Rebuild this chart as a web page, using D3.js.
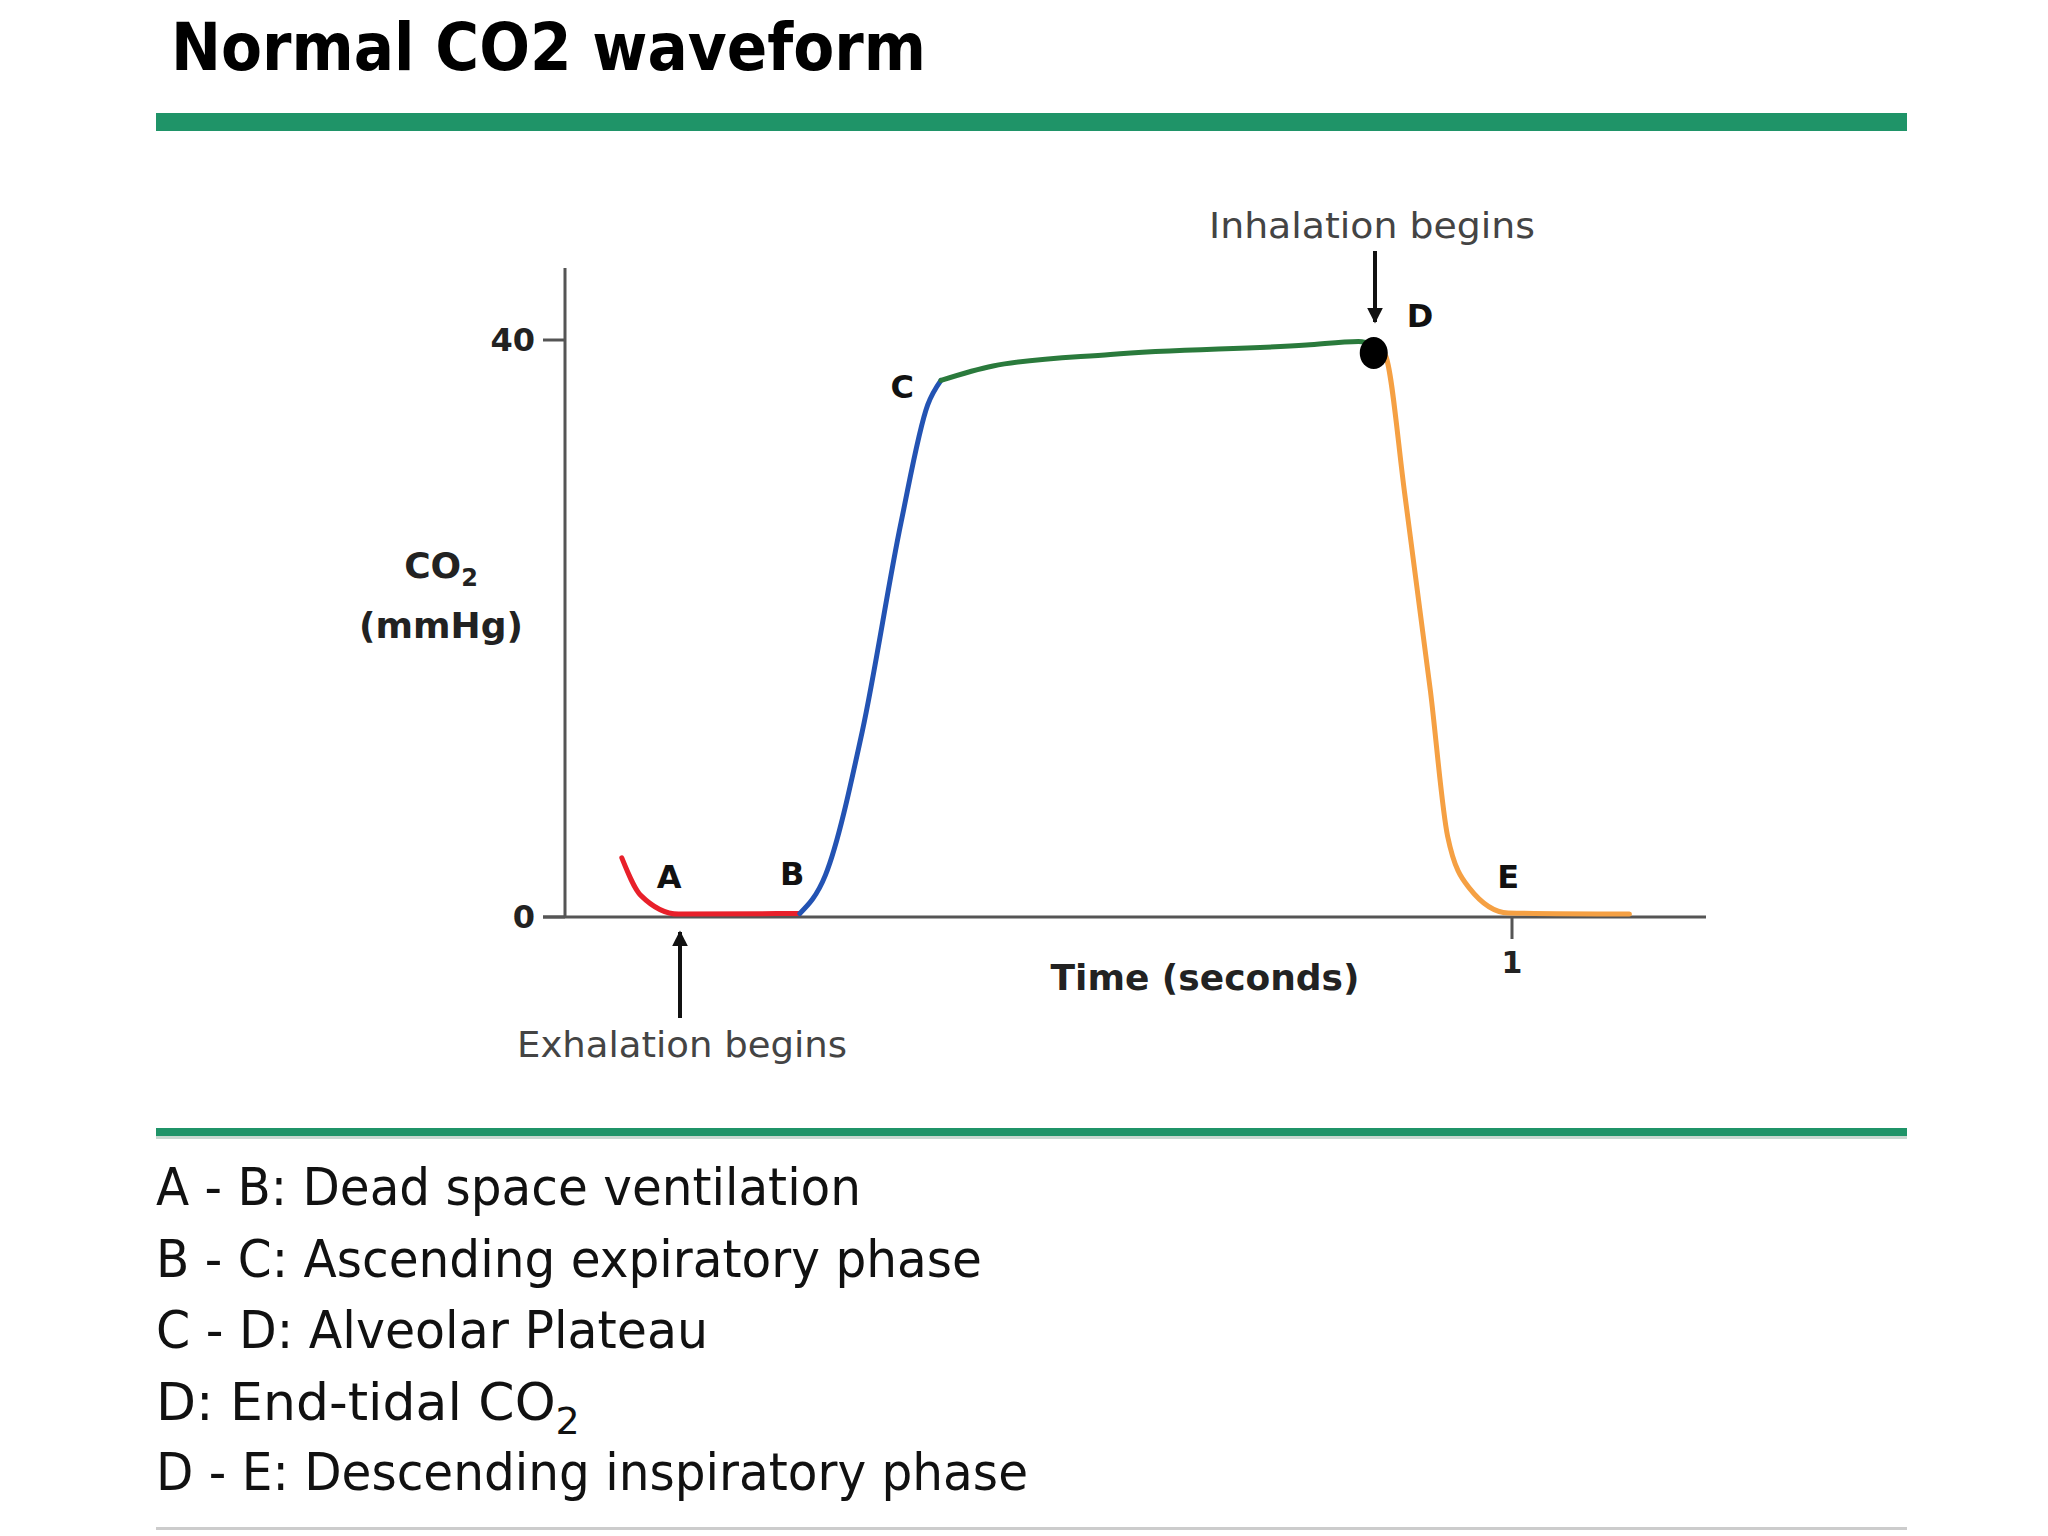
<!DOCTYPE html>
<html><head><meta charset="utf-8">
<script src="https://cdn.jsdelivr.net/npm/d3@7"></script>
<style>body{margin:0;background:#fff}</style></head>
<body><svg id="c" width="2048" height="1536"></svg>
<script>
const title = "Normal CO2 waveform";
const redSeg = [[0.060,4.1],[0.080,1.5],[0.120,0.2],[0.248,0.25]];
const blueSeg = [[0.248,0.25],[0.275,2.9],[0.314,12.9],[0.355,27.4],[0.383,35.5],[0.397,37.2]];
const greenSeg = [[0.397,37.2],[0.452,38.2],[0.576,39.0],[0.783,39.65],[0.838,39.9],[0.856,39.6]];
const orangeSeg = [[0.856,39.6],[0.866,39.0],[0.887,29.2],[0.914,15.6],[0.932,5.6],[0.955,2.0],[0.996,0.28],[1.124,0.2]];
const dotPoint = [0.854,39.1];
const pointLabels = [["A",0.11,2.0],["B",0.240,2.2],["C",0.356,36.0],["D",0.903,40.9],["E",0.996,2.0]];
const yTicks = [0,40];
const xTicks = [1];
const legendLines = [["A - B: Dead space ventilation",705],["B - C: Ascending expiratory phase",826],["C - D: Alveolar Plateau",552],["D: End-tidal CO",null],["D - E: Descending inspiratory phase",872]];

const svg = d3.select("#c");
const x = d3.scaleLinear().domain([0,1]).range([565,1512]);
const y = d3.scaleLinear().domain([0,40]).range([917,340]);
const font = "DejaVu Sans, Verdana, sans-serif";

svg.append("text").attr("x",171).attr("y",70).attr("font-family",font).attr("font-weight","bold")
  .attr("font-size",66).attr("textLength",755).attr("lengthAdjust","spacingAndGlyphs").text(title);
svg.append("rect").attr("x",156).attr("y",113).attr("width",1751).attr("height",18).attr("fill","#1f9468");
svg.append("rect").attr("x",156).attr("y",1128).attr("width",1751).attr("height",8).attr("fill","#1f9468");
svg.append("rect").attr("x",156).attr("y",1136).attr("width",1751).attr("height",3).attr("fill","#c8d8d0");
svg.append("rect").attr("x",156).attr("y",1527).attr("width",1751).attr("height",3).attr("fill","#cccccc");

const ax = svg.append("g").attr("stroke","#555").attr("stroke-width",3);
ax.append("line").attr("x1",x(0)).attr("x2",x(0)).attr("y1",268).attr("y2",y(0));
ax.append("line").attr("x1",543).attr("x2",1706).attr("y1",y(0)).attr("y2",y(0));
yTicks.forEach(t=>{ax.append("line").attr("x1",543).attr("x2",x(0)).attr("y1",y(t)).attr("y2",y(t));
  svg.append("text").attr("x",535).attr("y",y(t)+11).attr("text-anchor","end").attr("font-family",font)
   .attr("font-weight","bold").attr("font-size",32).attr("fill","#222").text(t);});
xTicks.forEach(t=>{ax.append("line").attr("x1",x(t)).attr("x2",x(t)).attr("y1",y(0)).attr("y2",y(0)+22);
  svg.append("text").attr("x",x(t)).attr("y",973).attr("text-anchor","middle").attr("font-family",font)
   .attr("font-weight","bold").attr("font-size",30).attr("fill","#222").text(t);});

svg.append("text").attr("x",1205).attr("y",990).attr("text-anchor","middle").attr("font-family",font)
  .attr("font-weight","bold").attr("font-size",36).attr("fill","#222").text("Time (seconds)");
const yl = svg.append("text").attr("x",441).attr("y",578).attr("text-anchor","middle").attr("font-family",font)
  .attr("font-weight","bold").attr("font-size",36).attr("fill","#222");
yl.append("tspan").text("CO");
yl.append("tspan").attr("font-size",24).attr("dy",8).text("2");
svg.append("text").attr("x",441).attr("y",638).attr("text-anchor","middle").attr("font-family",font)
  .attr("font-weight","bold").attr("font-size",36).attr("fill","#222").text("(mmHg)");

const line = d3.line().x(d=>x(d[0])).y(d=>y(d[1])).curve(d3.curveMonotoneX);
[[redSeg,"#e8202a"],[blueSeg,"#2353b3"],[greenSeg,"#2a7a3c"],[orangeSeg,"#f5a043"]].forEach(([s,c])=>{
  svg.append("path").attr("d",line(s)).attr("fill","none").attr("stroke",c).attr("stroke-width",5).attr("stroke-linecap","round");
});
svg.append("ellipse").attr("cx",x(dotPoint[0])).attr("cy",y(dotPoint[1])).attr("rx",14).attr("ry",16).attr("fill","#000");

pointLabels.forEach(([t,a,b])=>svg.append("text").attr("x",x(a)).attr("y",y(b)).attr("text-anchor","middle")
  .attr("font-family",font).attr("font-weight","bold").attr("font-size",32).attr("fill","#111").text(t));

svg.append("defs").append("marker").attr("id","ah").attr("viewBox","0 0 10 10").attr("refX",9).attr("refY",5)
  .attr("markerWidth",4).attr("markerHeight",4).attr("orient","auto").append("path").attr("d","M0,0L10,5L0,10Z").attr("fill","#111");
svg.append("line").attr("x1",1375).attr("x2",1375).attr("y1",251).attr("y2",322).attr("stroke","#111").attr("stroke-width",4).attr("marker-end","url(#ah)");
svg.append("line").attr("x1",680).attr("x2",680).attr("y1",1018).attr("y2",932).attr("stroke","#111").attr("stroke-width",4).attr("marker-end","url(#ah)");
svg.append("text").attr("x",1372).attr("y",238).attr("text-anchor","middle").attr("font-family",font)
  .attr("font-size",36).attr("fill","#444").attr("textLength",326).attr("lengthAdjust","spacingAndGlyphs").text("Inhalation begins");
svg.append("text").attr("x",682).attr("y",1057).attr("text-anchor","middle").attr("font-family",font)
  .attr("font-size",36).attr("fill","#444").attr("textLength",330).attr("lengthAdjust","spacingAndGlyphs").text("Exhalation begins");

const ys=[1205,1277,1348,1420,1490];
legendLines.forEach(([t,w],i)=>{
  const tx = svg.append("text").attr("x",156).attr("y",ys[i]).attr("font-family",font).attr("font-size",52).attr("fill","#111");
  if(w===null){tx.append("tspan").text(t);
    tx.append("tspan").attr("font-size",38).attr("dy",14).text("2");}
  else tx.attr("textLength",w).attr("lengthAdjust","spacingAndGlyphs").text(t);
});
</script></body></html>
